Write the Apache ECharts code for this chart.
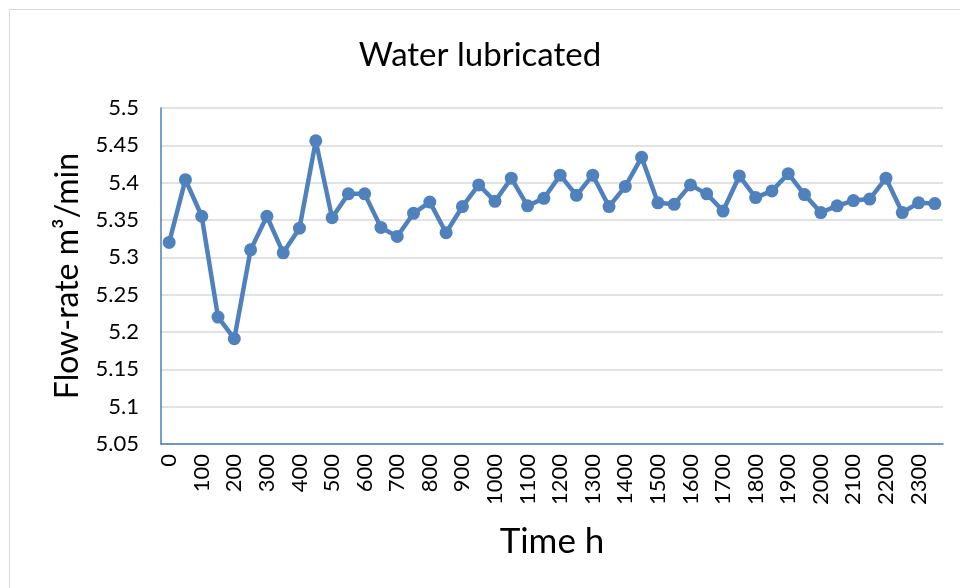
<!DOCTYPE html>
<html>
<head>
<meta charset="utf-8">
<script src="https://cdn.jsdelivr.net/npm/echarts@6/dist/echarts.min.js"></script>
<style>html,body{margin:0;padding:0;background:#fff;}#c{width:960px;height:588px;}</style>
</head>
<body>
<div id="c"></div>
<script>
const hours = [0,50,100,150,200,250,300,350,400,450,500,550,600,650,700,750,800,850,900,950,1000,1050,1100,1150,1200,1250,1300,1350,1400,1450,1500,1550,1600,1650,1700,1750,1800,1850,1900,1950,2000,2050,2100,2150,2200,2250,2300,2350];
const flowRate = [5.320,5.404,5.355,5.220,5.191,5.310,5.355,5.306,5.339,5.456,5.353,5.385,5.385,5.340,5.328,5.359,5.374,5.333,5.368,5.397,5.375,5.406,5.369,5.379,5.410,5.383,5.410,5.368,5.395,5.434,5.373,5.371,5.397,5.385,5.362,5.409,5.380,5.389,5.412,5.384,5.360,5.369,5.376,5.378,5.406,5.360,5.373,5.372];
const yTicks = {min:5.05, max:5.5, step:0.05};
const titleText = 'Water lubricated';
const xName = 'Time h';
const yName = 'Flow-rate m\u00B3/min';

const font = 'Lato, "Open Sans", sans-serif';
const chart = echarts.init(document.getElementById('c'), null, {renderer:'canvas'});
chart.setOption({
  animation:false,
  backgroundColor:'#fff',
  title:{text:titleText,left:'center',top:34,textStyle:{fontFamily:font,fontSize:33,fontWeight:'normal',color:'#000'}},
  graphic:[{type:'rect',shape:{x:9.5,y:9.5,width:1000,height:1000},style:{fill:'none',stroke:'#d9d9d9',lineWidth:1}}],
  grid:{left:161,right:17,top:108,bottom:144},
  xAxis:{
    type:'category',data:hours.map(String),boundaryGap:true,
    name:xName,nameLocation:'middle',nameGap:80,
    nameTextStyle:{fontFamily:font,fontSize:35,color:'#000'},
    axisLine:{lineStyle:{color:'#4a7ebb',width:1.5}},
    axisTick:{show:false},
    axisLabel:{interval:1,rotate:90,fontFamily:font,fontSize:22,color:'#000',margin:10}
  },
  yAxis:{
    type:'value',min:yTicks.min,max:yTicks.max,interval:yTicks.step,
    name:yName,nameLocation:'middle',nameGap:77,
    nameTextStyle:{fontFamily:font,fontSize:32,color:'#000'},
    axisLine:{show:true,lineStyle:{color:'#4a7ebb',width:1.5}},
    axisTick:{show:false},
    splitLine:{lineStyle:{color:'#d9d9d9',width:1.5}},
    axisLabel:{fontFamily:font,fontSize:22,color:'#000',margin:22,formatter:v=>String(Number(v.toFixed(2)))}
  },
  series:[{
    type:'line',data:flowRate,
    symbol:'circle',symbolSize:13,showAllSymbol:true,
    lineStyle:{color:'#4f81bd',width:4.5},
    itemStyle:{color:'#4f81bd'}
  }]
});
</script>
</body>
</html>
